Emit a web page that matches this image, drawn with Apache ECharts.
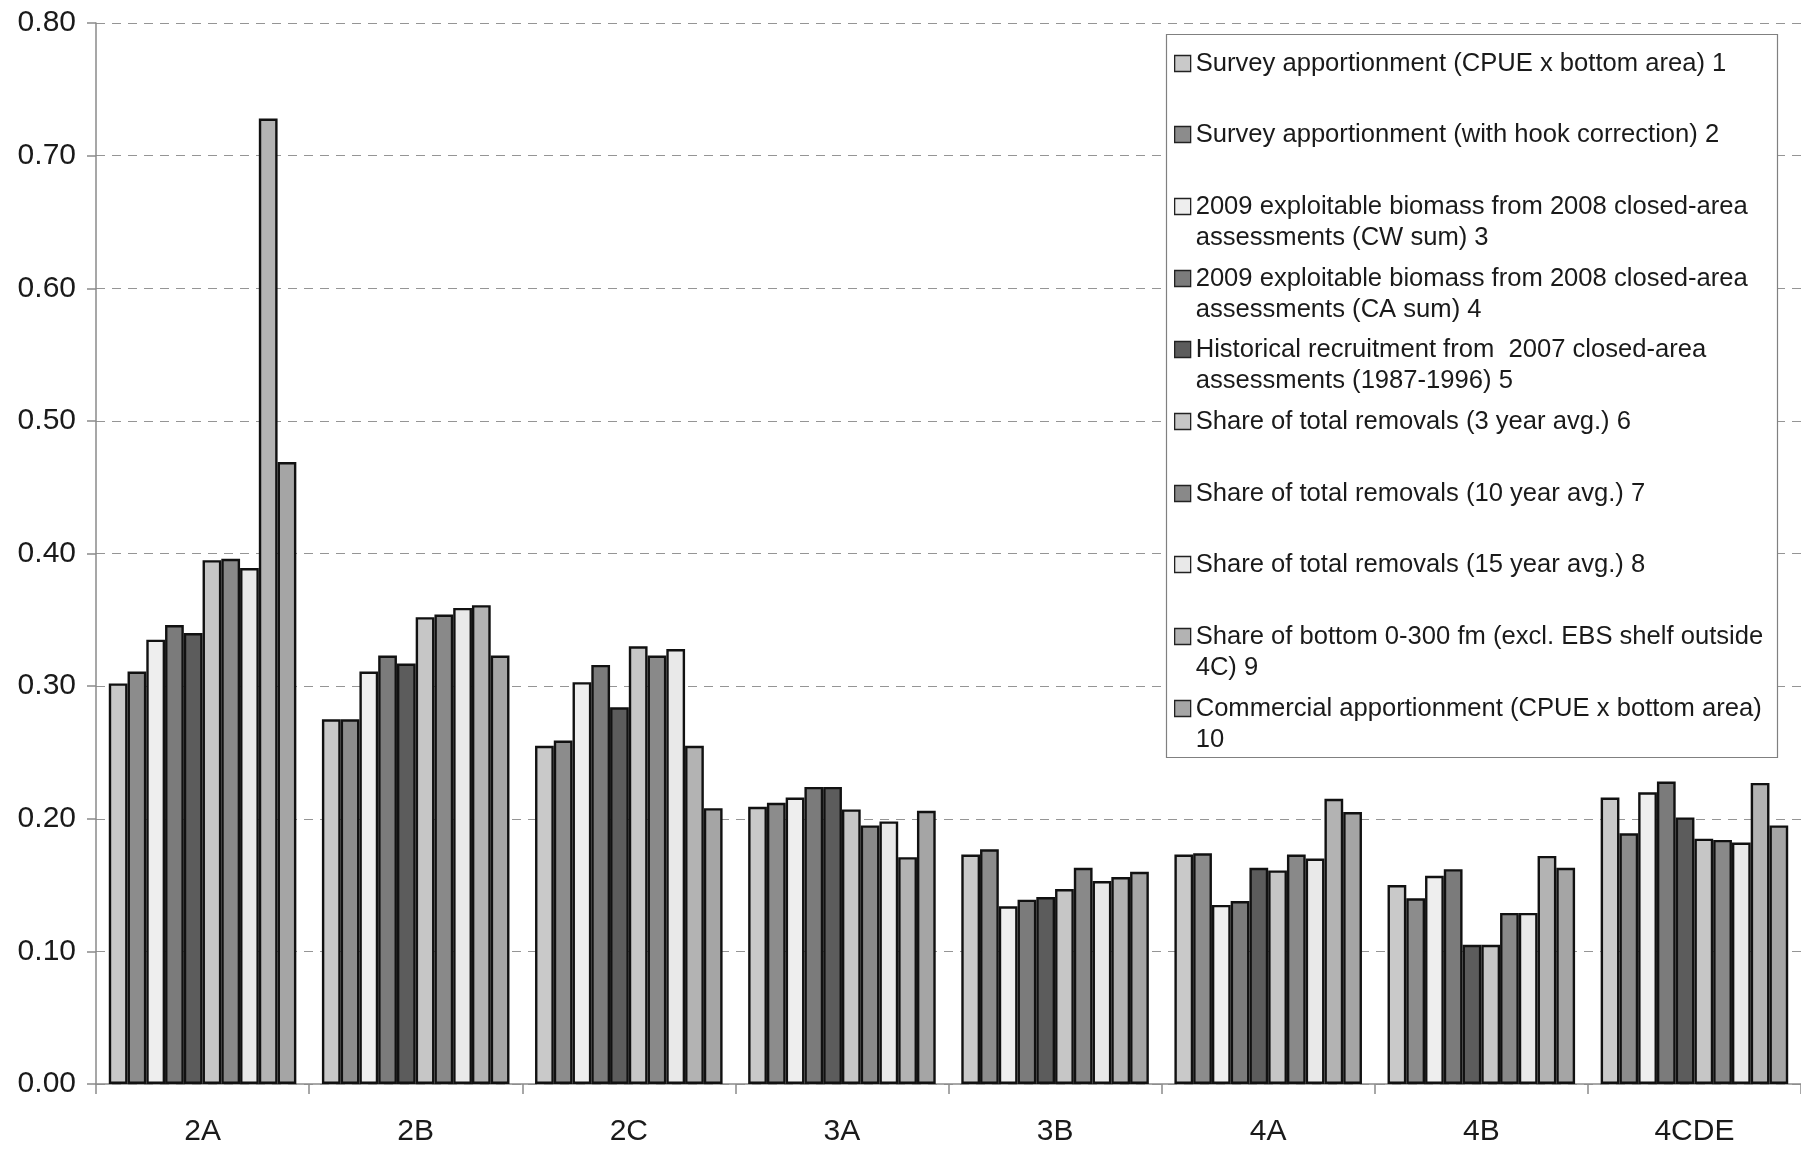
<!DOCTYPE html>
<html>
<head>
<meta charset="utf-8">
<script src="https://cdn.jsdelivr.net/npm/echarts@6/dist/echarts.min.js"></script>
<style>
html,body{margin:0;padding:0;background:#fff;}
#chart{width:1801px;height:1151px;}
</style>
</head>
<body>
<div id="chart"></div>
<script>
var categories = ['2A', '2B', '2C', '3A', '3B', '4A', '4B', '4CDE'];
var yTicks = [0, 0.1, 0.2, 0.3, 0.4, 0.5, 0.6, 0.7, 0.8];

var seriesNames = [
  'Survey apportionment (CPUE x bottom area) 1',
  'Survey apportionment (with hook correction) 2',
  '2009 exploitable biomass from 2008 closed-area\nassessments (CW sum) 3',
  '2009 exploitable biomass from 2008 closed-area\nassessments (CA sum) 4',
  'Historical recruitment from  2007 closed-area\nassessments (1987-1996) 5',
  'Share of total removals (3 year avg.) 6',
  'Share of total removals (10 year avg.) 7',
  'Share of total removals (15 year avg.) 8',
  'Share of bottom 0-300 fm (excl. EBS shelf outside\n4C) 9',
  'Commercial apportionment (CPUE x bottom area)\n10'
];

var s1  = [0.302, 0.275, 0.255, 0.209, 0.173, 0.173, 0.150, 0.216];
var s2  = [0.311, 0.275, 0.259, 0.212, 0.177, 0.174, 0.140, 0.189];
var s3  = [0.335, 0.311, 0.303, 0.216, 0.134, 0.135, 0.157, 0.220];
var s4  = [0.346, 0.323, 0.316, 0.224, 0.139, 0.138, 0.162, 0.228];
var s5  = [0.340, 0.317, 0.284, 0.224, 0.141, 0.163, 0.105, 0.201];
var s6  = [0.395, 0.352, 0.330, 0.207, 0.147, 0.161, 0.105, 0.185];
var s7  = [0.396, 0.354, 0.323, 0.195, 0.163, 0.173, 0.129, 0.184];
var s8  = [0.389, 0.359, 0.328, 0.198, 0.153, 0.170, 0.129, 0.182];
var s9  = [0.728, 0.361, 0.255, 0.171, 0.156, 0.215, 0.172, 0.227];
var s10 = [0.469, 0.323, 0.208, 0.206, 0.160, 0.205, 0.163, 0.195];

var seriesValues = [s1, s2, s3, s4, s5, s6, s7, s8, s9, s10];
var seriesColors = ['#c9c9c9', '#8c8c8c', '#eeeeee', '#7b7b7b', '#5c5c5c',
                    '#c6c6c6', '#898989', '#e9e9e9', '#b3b3b3', '#a5a5a5'];

var FONT = '"Liberation Sans", Arial, sans-serif';
var chart = echarts.init(document.getElementById('chart'), null, {renderer: 'canvas'});

var series = seriesValues.map(function (vals, i) {
  return {
    name: seriesNames[i],
    type: 'bar',
    data: vals,
    barGap: '0%',
    barCategoryGap: '12%',
    itemStyle: {color: seriesColors[i], borderColor: '#111', borderWidth: 2.4},
    emphasis: {disabled: true},
    z: 2
  };
});

// legend: one legend component per item, stacked at a fixed pitch.
// Two-line labels get an invisible leading line so that the icon sits on the first text line.
var LINE_H = 31;
var legends = seriesNames.map(function (name, i) {
  var lines = name.split('\n').length;
  var center = 63 + i * 71.7;
  var boxH = lines === 2 ? LINE_H * 3 : LINE_H;
  return {
    data: [name],
    formatter: function (n) { return n.indexOf('\n') >= 0 ? ' \n' + n : n; },
    orient: 'vertical',
    left: 1174,
    top: Math.round(center - boxH / 2),
    padding: 0,
    icon: 'rect',
    itemWidth: 16,
    itemHeight: 16,
    itemGap: 0,
    selectedMode: false,
    z: 60,
    itemStyle: {borderWidth: 1.3, borderColor: '#222'},
    textStyle: {
      fontFamily: FONT,
      fontSize: 25.6,
      lineHeight: LINE_H,
      color: '#1a1a1a',
      backgroundColor: 'rgba(255,255,255,0)'
    }
  };
});

var option = {
  animation: false,
  backgroundColor: '#ffffff',
  grid: {left: 96, right: 0, top: 23, bottom: 67, containLabel: false},
  graphic: [{
    type: 'rect',
    z: 50,
    shape: {x: 1166.5, y: 34.5, width: 611, height: 723},
    style: {fill: '#ffffff', stroke: '#808080', lineWidth: 1.2}
  }],
  legend: legends,
  xAxis: {
    type: 'category',
    data: categories,
    boundaryGap: true,
    axisLine: {show: true, lineStyle: {color: '#8a8a8a', width: 1.5}},
    axisTick: {show: true, interval: 0, length: 10, alignWithLabel: false,
               lineStyle: {color: '#8a8a8a', width: 1.5}},
    axisLabel: {margin: 33, fontFamily: FONT, fontSize: 30, color: '#1a1a1a', interval: 0},
    splitLine: {show: false}
  },
  yAxis: {
    type: 'value',
    min: yTicks[0],
    max: yTicks[yTicks.length - 1],
    interval: 0.1,
    axisLine: {show: true, lineStyle: {color: '#8a8a8a', width: 1.5}},
    axisTick: {show: true, length: 9, lineStyle: {color: '#8a8a8a', width: 1.5}},
    axisLabel: {
      margin: 20,
      fontFamily: FONT,
      fontSize: 30,
      color: '#1a1a1a',
      formatter: function (v) { return v.toFixed(2); }
    },
    splitLine: {show: true, lineStyle: {color: '#959595', width: 1.2, type: [9, 7]}}
  },
  series: series
};

chart.setOption(option);
</script>
</body>
</html>
